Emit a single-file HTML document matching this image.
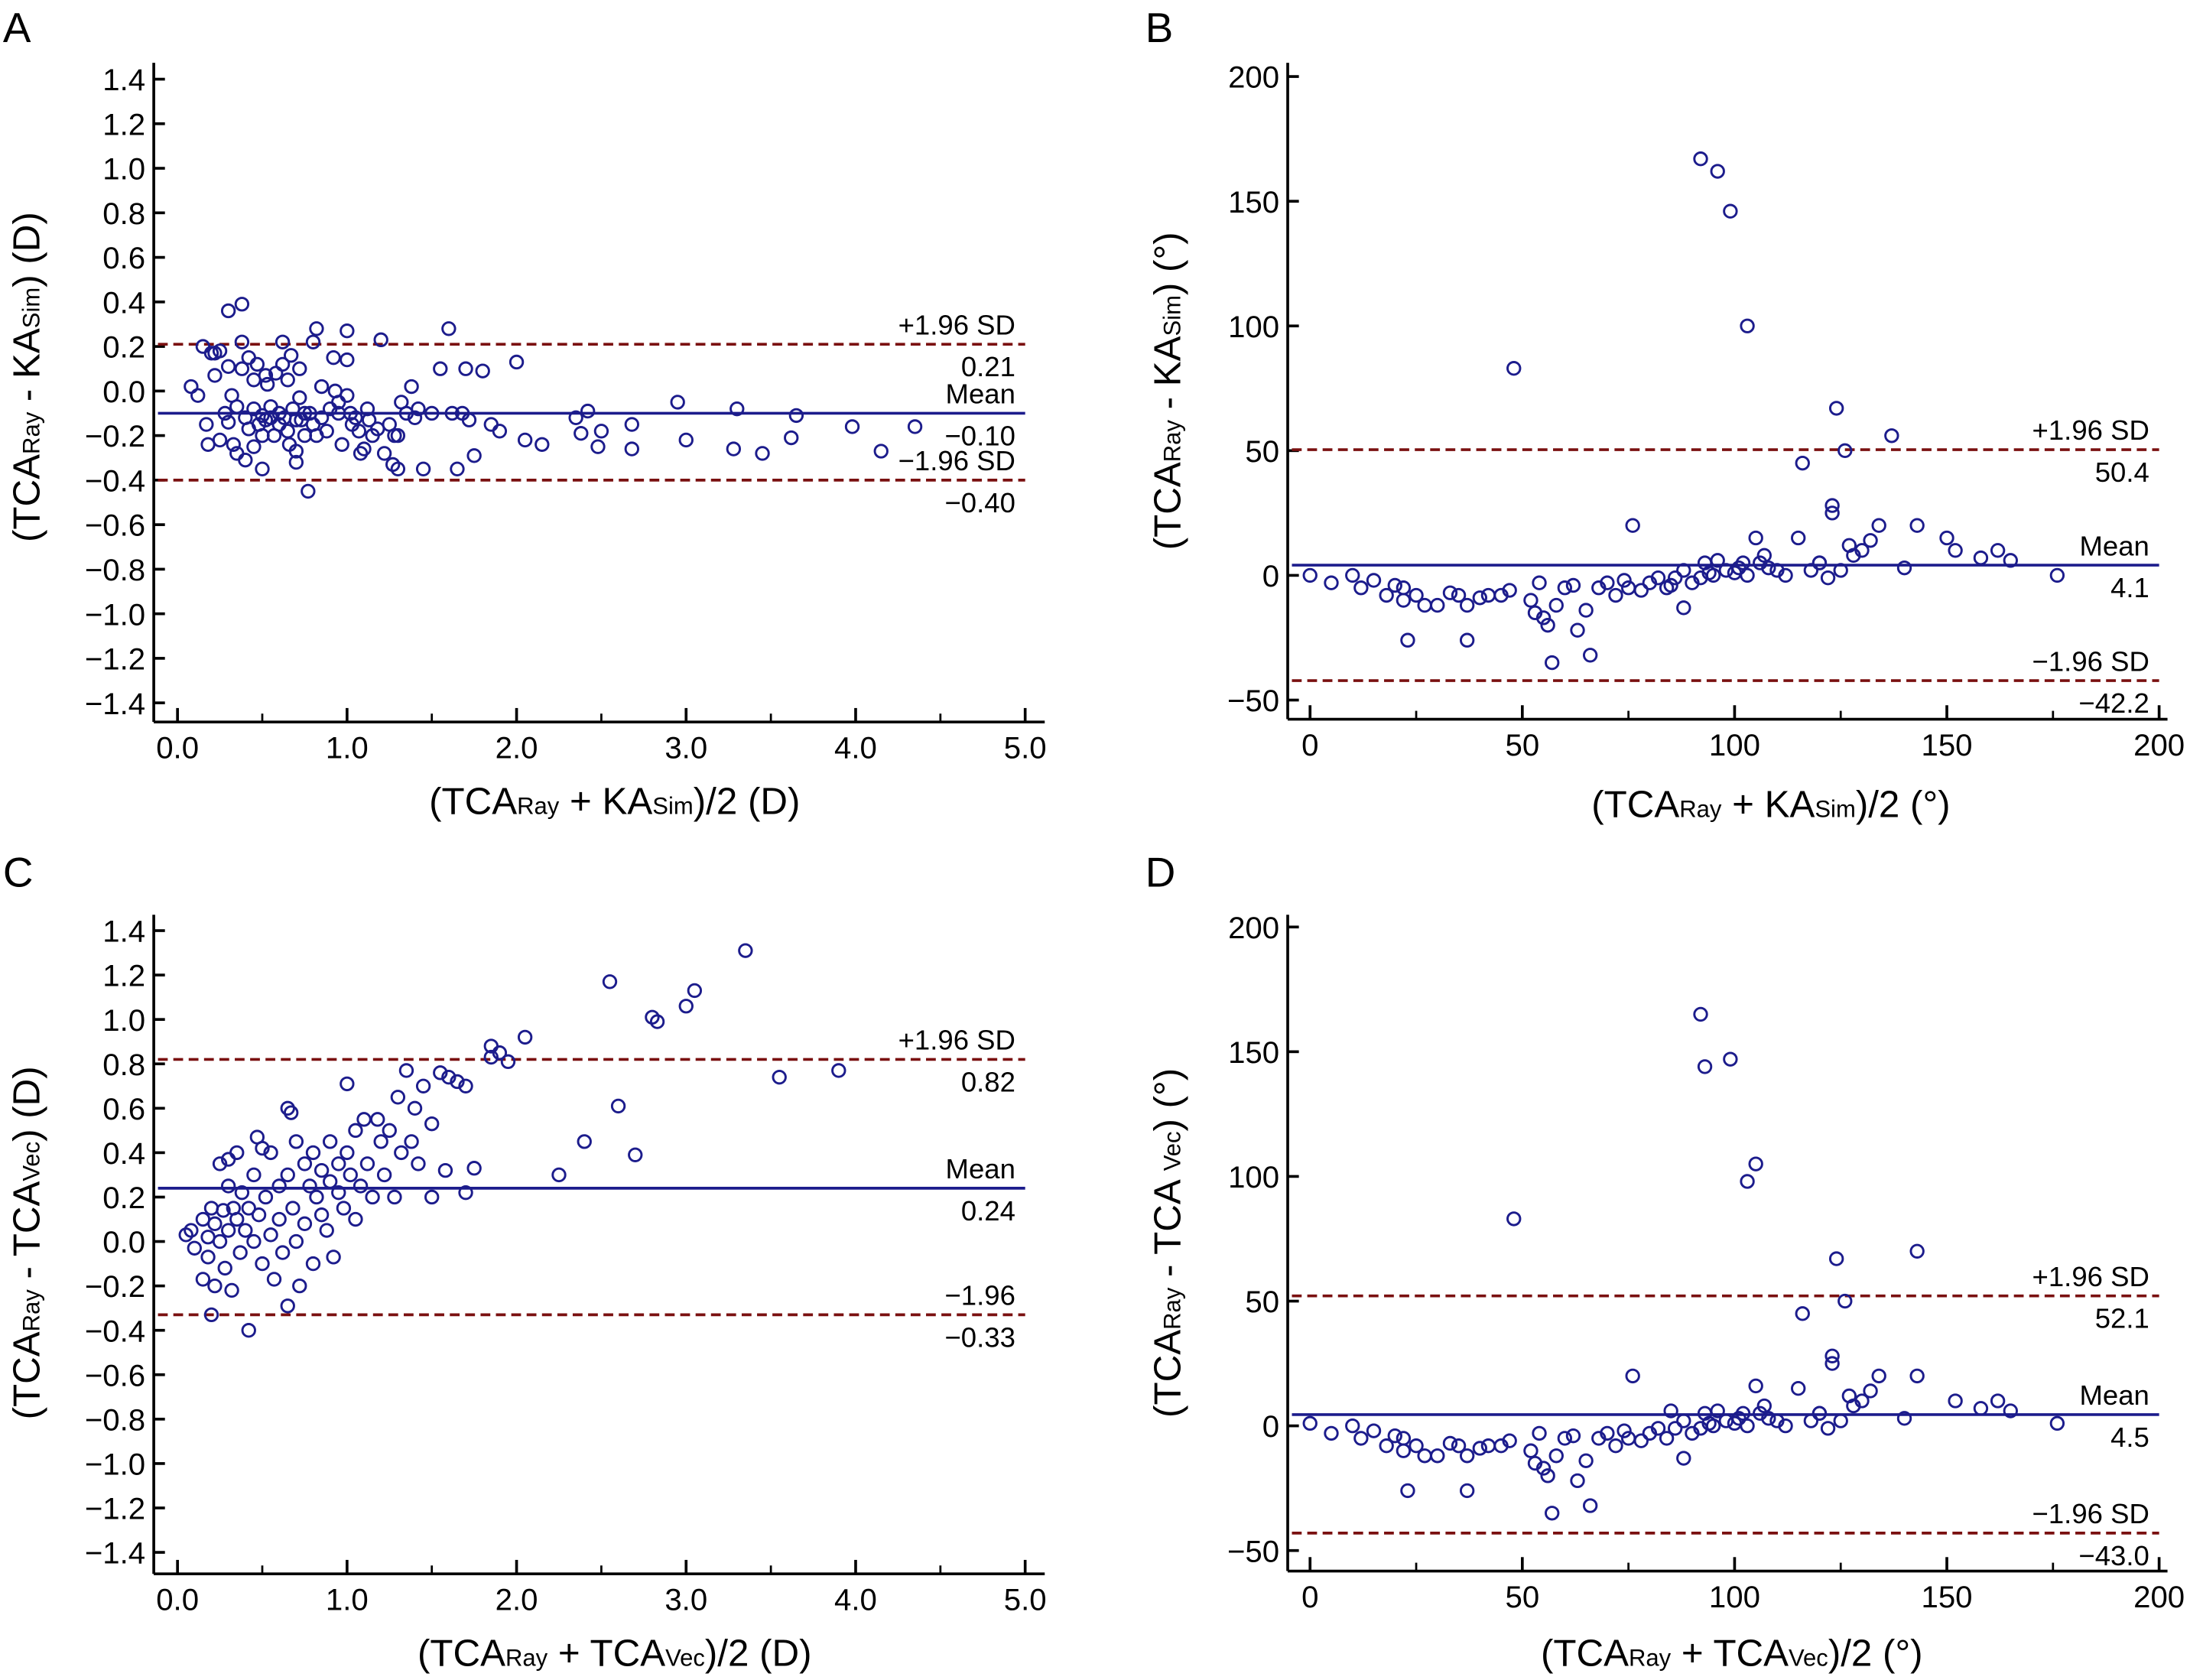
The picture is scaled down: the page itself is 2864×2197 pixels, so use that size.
<!DOCTYPE html>
<html><head><meta charset="utf-8">
<style>
html,body{margin:0;padding:0;background:#fff;}
svg{display:block;font-family:"Liberation Sans",Arial,sans-serif;}
</style></head>
<body>
<svg id="fig" width="2864" height="2197" viewBox="0 0 1568 1203" xmlns="http://www.w3.org/2000/svg"></svg>
<script>
// ---------- Panel A data (D) ----------
const aPoints = [[0.08,0.02],[0.12,-0.02],[0.15,0.2],[0.17,-0.15],[0.18,-0.24],[0.2,0.17],[0.22,0.07],[0.22,0.17],[0.25,0.18],[0.25,-0.22],[0.28,-0.1],[0.3,0.36],[0.3,0.11],[0.3,-0.14],[0.32,-0.02],[0.33,-0.24],[0.35,-0.07],[0.35,-0.28],[0.38,0.39],[0.38,0.22],[0.38,0.1],[0.4,-0.12],[0.4,-0.31],[0.42,0.15],[0.42,-0.17],[0.45,0.05],[0.45,-0.08],[0.45,-0.25],[0.47,0.12],[0.48,-0.15],[0.5,-0.11],[0.5,-0.2],[0.5,-0.35],[0.52,0.07],[0.52,-0.13],[0.53,0.03],[0.55,-0.07],[0.55,-0.12],[0.57,-0.2],[0.58,0.08],[0.6,-0.1],[0.6,-0.15],[0.62,0.22],[0.62,0.12],[0.63,-0.12],[0.65,-0.18],[0.65,0.05],[0.66,-0.24],[0.67,0.16],[0.68,-0.08],[0.7,-0.13],[0.7,-0.27],[0.7,-0.32],[0.72,0.1],[0.72,-0.03],[0.73,-0.13],[0.75,-0.1],[0.75,-0.2],[0.77,-0.45],[0.78,-0.1],[0.8,-0.15],[0.8,0.22],[0.82,0.28],[0.82,-0.2],[0.85,0.02],[0.85,-0.12],[0.88,-0.18],[0.9,-0.08],[0.92,0.15],[0.93,0.0],[0.95,-0.05],[0.95,-0.1],[0.97,-0.24],[1.0,0.27],[1.0,0.14],[1.0,-0.02],[1.02,-0.1],[1.03,-0.15],[1.05,-0.12],[1.07,-0.18],[1.08,-0.28],[1.1,-0.26],[1.12,-0.08],[1.13,-0.13],[1.15,-0.2],[1.18,-0.17],[1.2,0.23],[1.22,-0.28],[1.25,-0.15],[1.27,-0.33],[1.28,-0.2],[1.3,-0.35],[1.3,-0.2],[1.32,-0.05],[1.35,-0.1],[1.38,0.02],[1.4,-0.12],[1.42,-0.08],[1.45,-0.35],[1.5,-0.1],[1.55,0.1],[1.6,0.28],[1.62,-0.1],[1.65,-0.35],[1.68,-0.1],[1.7,0.1],[1.72,-0.13],[1.75,-0.29],[1.8,0.09],[1.85,-0.15],[2.0,0.13],[1.9,-0.18],[2.05,-0.22],[2.15,-0.24],[2.35,-0.12],[2.38,-0.19],[2.42,-0.09],[2.5,-0.18],[2.48,-0.25],[2.68,-0.15],[2.68,-0.26],[2.95,-0.05],[3.0,-0.22],[3.3,-0.08],[3.28,-0.26],[3.45,-0.28],[3.65,-0.11],[3.62,-0.21],[3.98,-0.16],[4.15,-0.27],[4.35,-0.16]];
const aStats = [0.21,-0.10,-0.40];
const aYTicks = [1.4,1.2,1.0,0.8,0.6,0.4,0.2,0.0,-0.2,-0.4,-0.6,-0.8,-1.0,-1.2,-1.4];
const aXTicks = [0,1,2,3,4,5];
// ---------- Panel B data (deg) ----------
const bPoints = [[0,0],[5,-3],[10,0],[12,-5],[15,-2],[18,-8],[20,-4],[22,-5],[22,-10],[23,-26],[25,-8],[27,-12],[30,-12],[33,-7],[35,-8],[37,-12],[37,-26],[40,-9],[42,-8],[45,-8],[47,-6],[48,83],[52,-10],[53,-15],[54,-3],[55,-17],[56,-20],[57,-35],[58,-12],[60,-5],[62,-4],[63,-22],[65,-14],[66,-32],[68,-5],[70,-3],[72,-8],[74,-2],[75,-5],[76,20],[78,-6],[80,-3],[82,-1],[84,-5],[85,-4],[86,-1],[88,-13],[88,2],[90,-3],[92,-1],[93,5],[94,1],[95,0],[96,6],[98,2],[100,1],[101,3],[102,5],[103,0],[105,15],[106,5],[107,8],[108,3],[110,2],[112,0],[115,15],[116,45],[118,2],[120,5],[122,-1],[123,25],[123,28],[124,67],[126,50],[127,12],[128,8],[130,10],[132,14],[134,20],[137,56],[140,3],[143,20],[150,15],[152,10],[158,7],[162,10],[165,6],[176,0],[92,167],[96,162],[99,146],[103,100],[120,5],[125,2]];
const bStats = [50.4,4.1,-42.2];
const degYTicks = [200,150,100,50,0,-50];
const degXTicks = [0,50,100,150,200];
// ---------- Panel C data (D) ----------
const cPoints = [[0.05,0.03],[0.08,0.05],[0.1,-0.03],[0.15,0.1],[0.15,-0.17],[0.18,0.02],[0.18,-0.07],[0.2,0.15],[0.2,-0.33],[0.22,0.08],[0.22,-0.2],[0.25,0.35],[0.25,0.0],[0.27,0.14],[0.28,-0.12],[0.3,0.37],[0.3,0.25],[0.3,0.05],[0.32,-0.22],[0.33,0.15],[0.35,0.4],[0.35,0.1],[0.37,-0.05],[0.38,0.22],[0.4,0.05],[0.42,-0.4],[0.42,0.15],[0.45,0.3],[0.45,0.0],[0.47,0.47],[0.48,0.12],[0.5,0.42],[0.5,-0.1],[0.52,0.2],[0.55,0.4],[0.55,0.03],[0.57,-0.17],[0.6,0.25],[0.6,0.1],[0.62,-0.05],[0.65,0.6],[0.65,0.3],[0.65,-0.29],[0.67,0.58],[0.68,0.15],[0.7,0.45],[0.7,0.0],[0.72,-0.2],[0.75,0.35],[0.75,0.08],[0.78,0.25],[0.8,0.4],[0.8,-0.1],[0.82,0.2],[0.85,0.32],[0.85,0.12],[0.88,0.05],[0.9,0.45],[0.9,0.27],[0.92,-0.07],[0.95,0.35],[0.95,0.22],[0.98,0.15],[1.0,0.71],[1.0,0.4],[1.02,0.3],[1.05,0.5],[1.05,0.1],[1.08,0.25],[1.1,0.55],[1.12,0.35],[1.15,0.2],[1.18,0.55],[1.2,0.45],[1.22,0.3],[1.25,0.5],[1.28,0.2],[1.3,0.65],[1.32,0.4],[1.35,0.77],[1.38,0.45],[1.4,0.6],[1.42,0.35],[1.45,0.7],[1.5,0.53],[1.5,0.2],[1.55,0.76],[1.58,0.32],[1.6,0.74],[1.65,0.72],[1.7,0.7],[1.7,0.22],[1.75,0.33],[1.85,0.88],[1.85,0.83],[1.9,0.85],[1.95,0.81],[2.05,0.92],[2.25,0.3],[2.4,0.45],[2.55,1.17],[2.6,0.61],[2.7,0.39],[2.8,1.01],[2.83,0.99],[3.0,1.06],[3.05,1.13],[3.35,1.31],[3.55,0.74],[3.9,0.77]];
const cStats = [0.82,0.24,-0.33];
// ---------- Panel D data (deg) ----------
const dPoints = [[0,1],[5,-3],[10,0],[12,-5],[15,-2],[18,-8],[20,-4],[22,-5],[22,-10],[23,-26],[25,-8],[27,-12],[30,-12],[33,-7],[35,-8],[37,-12],[37,-26],[40,-9],[42,-8],[45,-8],[47,-6],[48,83],[52,-10],[53,-15],[54,-3],[55,-17],[56,-20],[57,-35],[58,-12],[60,-5],[62,-4],[63,-22],[65,-14],[66,-32],[68,-5],[70,-3],[72,-8],[74,-2],[75,-5],[76,20],[78,-6],[80,-3],[82,-1],[84,-5],[85,6],[86,-1],[88,-13],[88,2],[90,-3],[92,-1],[93,5],[94,1],[95,0],[96,6],[98,2],[100,1],[101,3],[102,5],[103,0],[105,16],[106,5],[107,8],[108,3],[110,2],[112,0],[115,15],[116,45],[118,2],[120,5],[122,-1],[123,25],[123,28],[124,67],[126,50],[127,12],[128,8],[130,10],[132,14],[134,20],[140,3],[143,70],[143,20],[152,10],[158,7],[162,10],[165,6],[176,1],[92,165],[93,144],[99,147],[103,98],[105,105],[120,5],[125,2]];
const dStats = [52.1,4.5,-43.0];

const NS = "http://www.w3.org/2000/svg";
const svg = document.getElementById('fig');
const NAVY = "#1c1c8c", RED = "#7a1010";

function mk(tag, attrs, parent) {
  const e = document.createElementNS(NS, tag);
  for (const k in attrs) e.setAttribute(k, attrs[k]);
  (parent || svg).appendChild(e);
  return e;
}

function panel(p) {
  const g = mk('g', {});
  
  
  const sx = v => p.x0 + (v - p.xmin) * p.xs;
  const sy = v => p.y0 - v * p.ys;
  // axes
  const ax = mk('line', {x1: p.axL, y1: p.axT, x2: p.axL, y2: p.axB, stroke: '#000', 'stroke-width': 2}, g);
  
  
  const bx = mk('line', {x1: p.axL, y1: p.axB, x2: p.axR, y2: p.axB, stroke: '#000', 'stroke-width': 2}, g);
  
  
  // y ticks
  p.yTicks.forEach(t => {
    const y = sy(t);
    mk('line', {x1: p.axL, y1: y, x2: p.axL + 8, y2: y, stroke: '#000', 'stroke-width': 2}, g);
    const tx = mk('text', {x: p.axL - 6, y: y + 8, 'text-anchor': 'end', 'font-size': 22}, g);
    tx.textContent = p.fmtY(t);
    
    
  });
  // x ticks
  p.xTicks.forEach((t, i) => {
    const x = sx(t);
    mk('line', {x1: x, y1: p.axB, x2: x, y2: p.axB - 10, stroke: '#000', 'stroke-width': 2}, g);
    if (i < p.xTicks.length - 1) {
      const xm = sx(t + p.xStep / 2);
      mk('line', {x1: xm, y1: p.axB, x2: xm, y2: p.axB - 6, stroke: '#000', 'stroke-width': 1.5}, g);
    }
    const tx = mk('text', {x: x, y: p.axB + 26, 'text-anchor': 'middle', 'font-size': 22}, g);
    tx.textContent = p.fmtX(t);
    
    
  });
  // lines
  const lx1 = p.axL + 3, lx2 = p.lineEnd;
  const up = mk('line', {x1: lx1, y1: sy(p.stats[0]), x2: lx2, y2: sy(p.stats[0]), stroke: RED, 'stroke-width': 2, 'stroke-dasharray': '7,4'}, g);
  
  
  const mn = mk('line', {x1: lx1, y1: sy(p.stats[1]), x2: lx2, y2: sy(p.stats[1]), stroke: NAVY, 'stroke-width': 2}, g);
  
  
  const lo = mk('line', {x1: lx1, y1: sy(p.stats[2]), x2: lx2, y2: sy(p.stats[2]), stroke: RED, 'stroke-width': 2, 'stroke-dasharray': '7,4'}, g);
  
  
  const labs = [[p.topLabels[0], -7], [p.fmtS(p.stats[0]), 23]];
  const lblSets = [
    [p.topLabels[0], sy(p.stats[0]) - 7], [p.fmtS(p.stats[0]), sy(p.stats[0]) + 23],
    ['Mean', sy(p.stats[1]) - 7], [p.fmtS(p.stats[1]), sy(p.stats[1]) + 23],
    [p.topLabels[1], sy(p.stats[2]) - 7], [p.fmtS(p.stats[2]), sy(p.stats[2]) + 23]
  ];
  lblSets.forEach(l => {
    const t = mk('text', {x: p.lineEnd - 7, y: l[1], 'text-anchor': 'end', 'font-size': 20}, g);
    t.textContent = l[0];
    
    
  });
  // points
  p.pts.forEach(pt => {
    const c = mk('circle', {cx: sx(pt[0]), cy: sy(pt[1]), r: 4.5, fill: 'none', stroke: NAVY, 'stroke-width': 1.6}, g);
    
    
  });
  // titles
  const xt = mk('text', {x: p.xtX, y: p.xtY, 'text-anchor': 'middle', 'font-size': 27}, g);
  xt.innerHTML = p.xTitle;
  
  
  const yt = mk('text', {x: 0, y: 0, 'text-anchor': 'middle', 'font-size': 27, transform: `translate(${p.ytX},${p.ytY}) rotate(-90)`}, g);
  yt.innerHTML = p.yTitle;
  
  
  const L = mk('text', {x: p.letX, y: p.letY, 'font-size': 30}, g);
  L.textContent = p.id;
  
  
}
const sub = s => `<tspan font-size="17">${s}</tspan>`;
const f1 = v => v.toFixed(1).replace('-', '\u2212');
const f2 = v => v.toFixed(2).replace('-', '\u2212');
const f0 = v => String(v).replace('-', '\u2212');

panel({id:'A', x0:127, xmin:0, xs:121.4, y0:280, ys:159.5, axL:110, axR:748, axT:45, axB:517,
  yTicks:aYTicks, xTicks:aXTicks, xStep:1, fmtY:f1, fmtX:f1, fmtS:f2, stats:aStats, pts:aPoints, lineEnd:734,
  topLabels:['+1.96 SD','\u22121.96 SD'],
  xTitle:`(TCA${sub('Ray')} + KA${sub('Sim')})/2 (D)`, xtX:440, xtY:583,
  yTitle:`(TCA${sub('Ray')} - KA${sub('Sim')}) (D)`, ytX:28, ytY:270, letX:2, letY:30});
panel({id:'B', x0:938, xmin:0, xs:3.04, y0:412, ys:1.786, axL:922, axR:1552, axT:45, axB:515,
  yTicks:degYTicks, xTicks:degXTicks, xStep:50, fmtY:f0, fmtX:f0, fmtS:f1, stats:bStats, pts:bPoints, lineEnd:1546,
  topLabels:['+1.96 SD','\u22121.96 SD'],
  xTitle:`(TCA${sub('Ray')} + KA${sub('Sim')})/2 (°)`, xtX:1268, xtY:585,
  yTitle:`(TCA${sub('Ray')} - KA${sub('Sim')}) (°)`, ytX:845, ytY:280, letX:820, letY:30});
panel({id:'C', x0:127, xmin:0, xs:121.4, y0:889, ys:159, axL:110, axR:748, axT:655, axB:1127,
  yTicks:aYTicks, xTicks:aXTicks, xStep:1, fmtY:f1, fmtX:f1, fmtS:f2, stats:cStats, pts:cPoints, lineEnd:734,
  topLabels:['+1.96 SD','\u22121.96'],
  xTitle:`(TCA${sub('Ray')} + TCA${sub('Vec')})/2 (D)`, xtX:440, xtY:1193,
  yTitle:`(TCA${sub('Ray')} - TCA${sub('Vec')}) (D)`, ytX:28, ytY:890, letX:2, letY:635});
panel({id:'D', x0:938, xmin:0, xs:3.04, y0:1021, ys:1.786, axL:922, axR:1552, axT:655, axB:1125,
  yTicks:degYTicks, xTicks:degXTicks, xStep:50, fmtY:f0, fmtX:f0, fmtS:f1, stats:dStats, pts:dPoints, lineEnd:1546,
  topLabels:['+1.96 SD','\u22121.96 SD'],
  xTitle:`(TCA${sub('Ray')} + TCA${sub('Vec')})/2 (°)`, xtX:1240, xtY:1193,
  yTitle:`(TCA${sub('Ray')} - TCA ${sub('Vec')}) (°)`, ytX:845, ytY:890, letX:820, letY:635});
</script>
</body></html>
